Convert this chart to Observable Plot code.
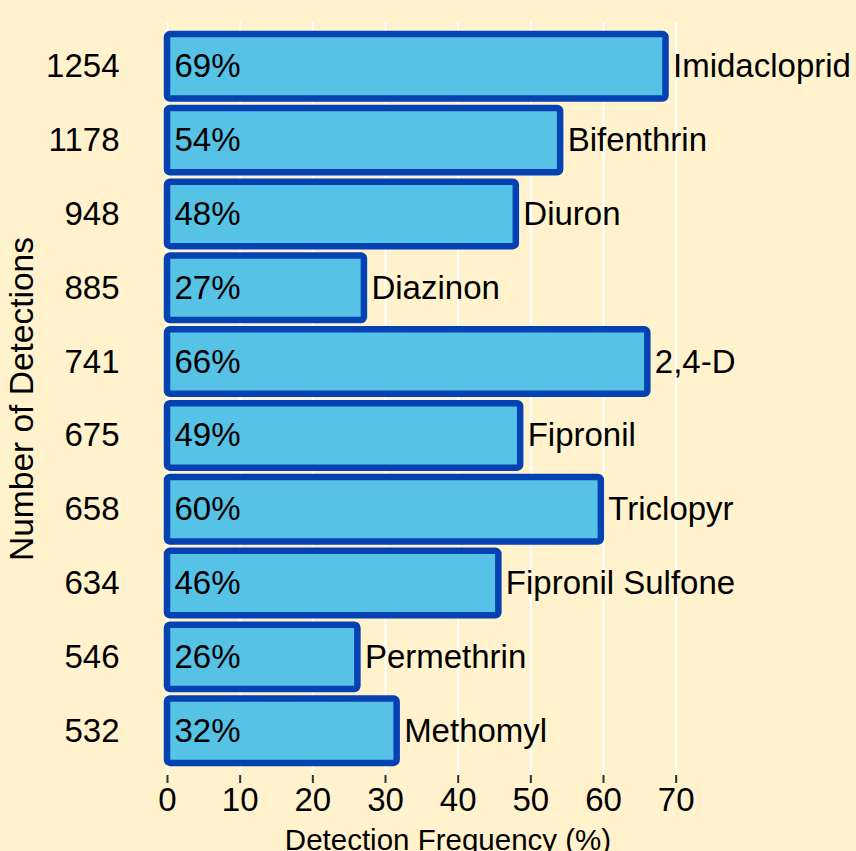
<!DOCTYPE html>
<html><head><meta charset="utf-8">
<script src="https://cdn.jsdelivr.net/npm/d3@7"></script>
<script src="https://cdn.jsdelivr.net/npm/@observablehq/plot@0.6"></script>
<style>
html,body{margin:0;padding:0;background:#fff2cc;}
#chart svg{display:block;}
</style></head><body><div id="chart"></div>
<script>
const chemicals = ["Imidacloprid","Bifenthrin","Diuron","Diazinon","2,4-D","Fipronil","Triclopyr","Fipronil Sulfone","Permethrin","Methomyl"];
const detections = [1254,1178,948,885,741,675,658,634,546,532];
const frequency = [68.6,54.1,48.0,27.1,66.1,48.6,59.7,45.6,26.2,31.6];
const freqLabels = ["69%","54%","48%","27%","66%","49%","60%","46%","26%","32%"];
const xTicks = [0,10,20,30,40,50,60,70];

const data = chemicals.map((c,i)=>({chemical:c, detections:detections[i], frequency:frequency[i], label:freqLabels[i]}));
const countOf = new Map(data.map(d=>[d.chemical, String(d.detections)]));

const plot = Plot.plot({
  width: 856, height: 851,
  marginLeft: 167, marginRight: 128, marginTop: 22, marginBottom: 76,
  style: {background: "#fff2cc", fontFamily: "'Liberation Sans', Arial, sans-serif", fontSize: "33px", color: "#000", overflow: "visible"},
  x: {domain: [0, 77.2], label: null},
  y: {domain: chemicals, paddingInner: 0.1, paddingOuter: 0.15, round: false, label: null},
  marks: [
    Plot.gridX(xTicks, {stroke: "#ffffff", strokeOpacity: 1, strokeWidth: 2}),
    Plot.barX(data, {x: "frequency", y: "chemical", fill: "#56c3e6", stroke: "#0441b2", strokeWidth: 6.5, rx: 3, insetTop: 1, insetBottom: 1}),
    Plot.text(data, {x: 0, y: "chemical", text: "label", textAnchor: "start", dx: 7, fill: "#000", fontSize: 33}),
    Plot.text(data, {x: "frequency", y: "chemical", text: "chemical", textAnchor: "start", dx: 7, fill: "#000", fontSize: 33}),
    Plot.axisX(xTicks, {tickSize: 8, tickPadding: 4, stroke: "#333", strokeWidth: 2, fill: "#000", fontSize: 33, label: null}),
    Plot.axisY({tickSize: 0, tickPadding: 48, tickFormat: c => countOf.get(c), fill: "#000", fontSize: 33, label: null}),
    Plot.text(["Detection Frequency (%)"], {frameAnchor: "bottom", dy: 74, lineAnchor: "bottom", fill: "#000", fontSize: 29.5}),
    Plot.text(["Number of Detections"], {frameAnchor: "left", dx: -145, rotate: -90, textAnchor: "middle", lineAnchor: "middle", fill: "#000", fontSize: 33.5})
  ]
});
document.getElementById("chart").appendChild(plot);
</script>
</body></html>
